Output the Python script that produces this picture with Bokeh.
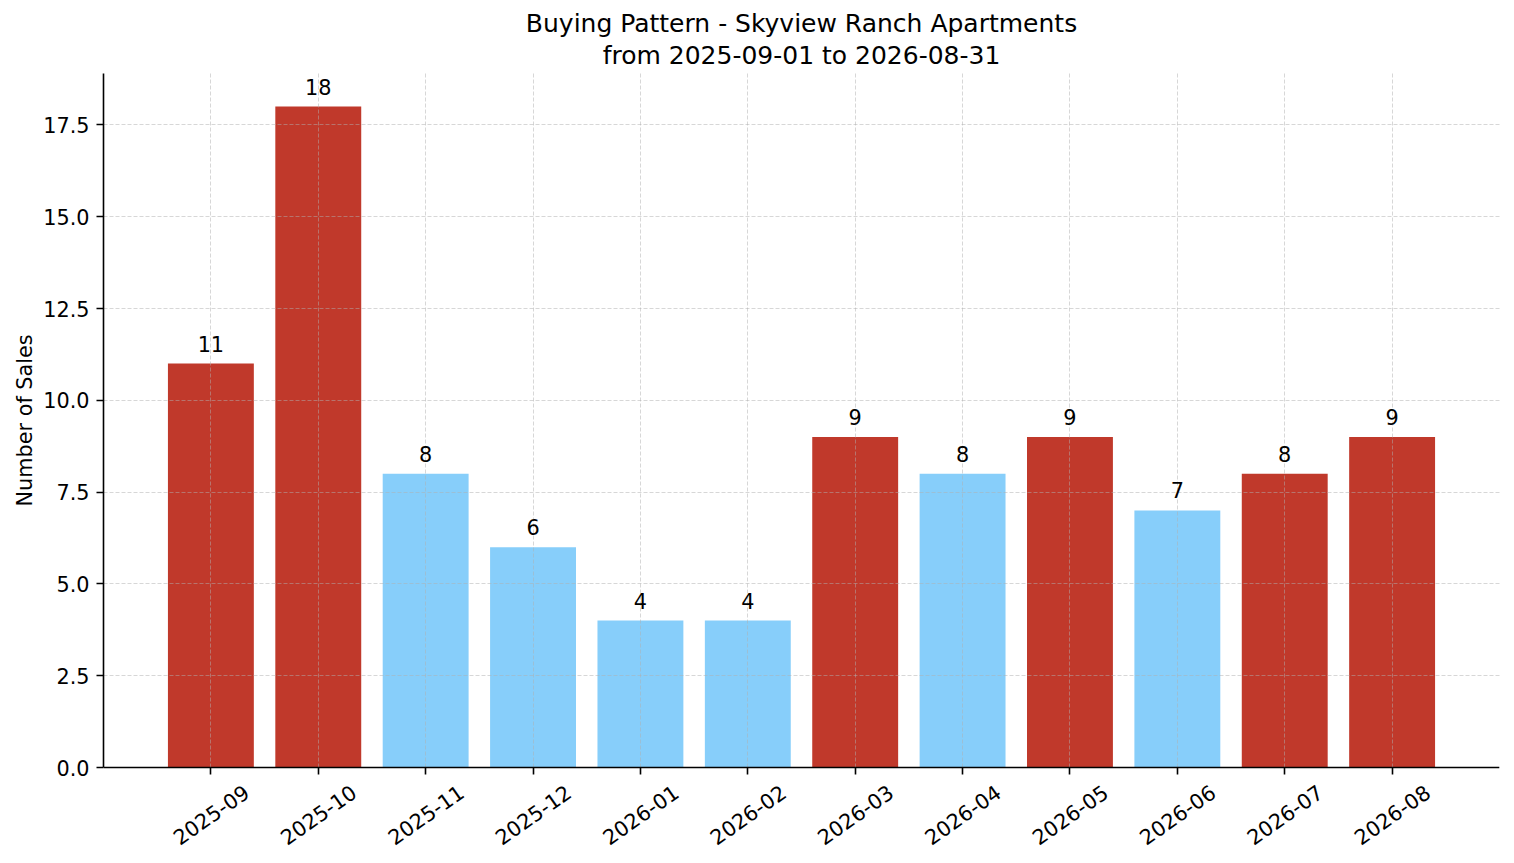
import math
from bokeh.plotting import figure
from bokeh.models import (ColumnDataSource, LabelSet, Title, FixedTicker,
                          PrintfTickFormatter, FactorRange, Range1d)
from bokeh.core.properties import value
from bokeh.embed import file_html
from bokeh.resources import INLINE

# ---- data ----
months = ["2025-09", "2025-10", "2025-11", "2025-12", "2026-01", "2026-02",
          "2026-03", "2026-04", "2026-05", "2026-06", "2026-07", "2026-08"]
sales = [11, 18, 8, 6, 4, 4, 9, 8, 9, 7, 8, 9]
RED = "#c0392b"
BLUE = "#87cefa"
bar_colors = [RED, RED, BLUE, BLUE, BLUE, BLUE, RED, BLUE, RED, BLUE, RED, RED]
title_line1 = "Buying Pattern - Skyview Ranch Apartments"
title_line2 = "from 2025-09-01 to 2026-08-31"
y_ticks = [0.0, 2.5, 5.0, 7.5, 10.0, 12.5, 15.0, 17.5]
y_label = "Number of Sales"
y_max = 18.9

FONT = "DejaVu Sans"
TICK_FS = "20.8px"

# layout constants (pixels)
W, H = 1514, 863
TOP, LEFT, RIGHT = 73, 103, 15
PLOT_H = 694            # height of the value area (0 .. y_max)
frame_h = H - TOP       # frame runs to the bottom so the month labels fit
y_min = -y_max * (frame_h - PLOT_H) / PLOT_H
HALF_YLABEL = 86        # approx. half length of the y label text
ylabel_offset = (frame_h - PLOT_H / 2) - HALF_YLABEL

src = ColumnDataSource(dict(month=months, sales=sales, color=bar_colors,
                            label=[str(v) for v in sales],
                            zero=[0] * len(months)))

p = figure(width=W, height=H,
           x_range=FactorRange(factors=months, range_padding=0.5,
                               range_padding_units="absolute"),
           y_range=Range1d(y_min, y_max),
           output_backend="svg", toolbar_location=None,
           min_border_left=LEFT, min_border_right=RIGHT,
           min_border_top=TOP, min_border_bottom=0)

p.add_layout(Title(text=title_line2, align="center", text_font=FONT,
                   text_font_size="25px", text_font_style="normal",
                   text_color="black", standoff=7), "above")
p.add_layout(Title(text=title_line1, align="center", text_font=FONT,
                   text_font_size="25px", text_font_style="normal",
                   text_color="black", standoff=-4), "above")

p.outline_line_color = None
p.background_fill_color = "white"
p.border_fill_color = "white"

for g in (p.xgrid, p.ygrid):
    g.grid_line_color = "#b0b0b0"
    g.grid_line_alpha = 0.5
    g.grid_line_dash = "4 2"
    g.grid_line_width = 1
    g.level = "guide"
for g in p.xgrid:
    if "cross_bounds" in g.properties():
        g.cross_bounds = (0, y_max)

p.vbar(x="month", top="sales", width=0.8, source=src,
       fill_color="color", line_color=None)

# value labels above bars
p.add_layout(LabelSet(x="month", y="sales", text="label", source=src,
                      text_align="center", text_baseline="alphabetic",
                      y_offset=12, text_font=value(FONT),
                      text_font_size=value(TICK_FS),
                      text_color="black"))

# rotated month labels, centred under each tick
p.add_layout(LabelSet(x="month", y="zero", text="month", source=src,
                      angle=35, angle_units="deg",
                      text_align="center", text_baseline="middle",
                      y_offset=-47, text_font=value(FONT),
                      text_font_size=value(TICK_FS),
                      text_color="black"))

p.yaxis.ticker = FixedTicker(ticks=y_ticks)
p.yaxis.formatter = PrintfTickFormatter(format="%.1f")
p.yaxis.bounds = (0, y_max)
p.yaxis.minor_tick_line_color = None

for ax in (p.xaxis, p.yaxis):
    ax.axis_line_color = "black"
    ax.axis_line_width = 1.6
    ax.major_tick_line_color = "black"
    ax.major_tick_line_width = 1.6
    ax.major_tick_out = 7
    ax.major_tick_in = 0
    ax.major_label_standoff = 7
    ax.major_label_text_font = FONT
    ax.major_label_text_font_size = TICK_FS
    ax.major_label_text_color = "black"
    ax.level = "overlay"

p.xaxis.fixed_location = 0
p.xaxis.major_label_text_alpha = 0

# y-axis title, centred on the 0..y_max part of the frame
p.add_layout(Title(text=y_label, align="left", offset=ylabel_offset,
                   text_font=FONT, text_font_size=TICK_FS,
                   text_font_style="normal", text_color="black",
                   standoff=8), "left")

open("out.html", "w").write(file_html(p, INLINE))
